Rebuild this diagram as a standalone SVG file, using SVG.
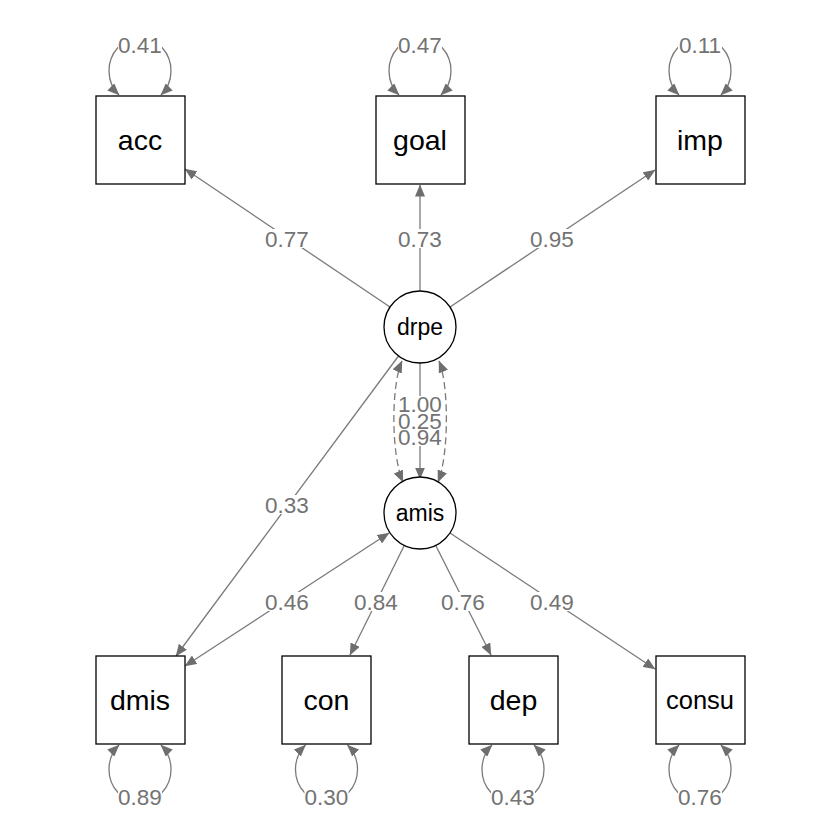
<svg xmlns="http://www.w3.org/2000/svg" width="840" height="840" viewBox="0 0 840 840">
<style>
.bg{fill:#ffffff}
.box{fill:#ffffff;stroke:#000000;stroke-width:1.3}
.nt{font-family:"Liberation Sans",Arial,sans-serif;fill:#000000;text-anchor:middle}
.e{fill:none;stroke:#7a7a7a;stroke-width:1.3}
.d{stroke-dasharray:7 4}
.lb{fill:#ffffff}
.lt{font-family:"Liberation Sans",Arial,sans-serif;font-size:22.5px;fill:#737373;text-anchor:middle}
</style>
<defs>
<marker id="ah" viewBox="0 0 12 10" refX="11.5" refY="5" markerWidth="12" markerHeight="10" markerUnits="userSpaceOnUse" orient="auto-start-reverse">
<path d="M0,0 L12,5 L0,10 z" fill="#6e6e6e"/>
</marker>
</defs>
<rect class="bg" x="0" y="0" width="840" height="840"/>
<g id="connectors">
<line class="e" x1="390" y1="307" x2="185" y2="169" marker-end="url(#ah)"/>
<line class="e" x1="420" y1="291" x2="420" y2="185" marker-end="url(#ah)"/>
<line class="e" x1="450" y1="307" x2="655" y2="170" marker-end="url(#ah)"/>
<line class="e" x1="398.5" y1="356" x2="176" y2="656" marker-end="url(#ah)"/>
<line class="e" x1="389" y1="533" x2="185" y2="666" marker-start="url(#ah)" marker-end="url(#ah)"/>
<line class="e" x1="404" y1="546" x2="350" y2="655" marker-end="url(#ah)"/>
<line class="e" x1="436" y1="546" x2="491" y2="655" marker-end="url(#ah)"/>
<line class="e" x1="450" y1="533" x2="655" y2="669" marker-end="url(#ah)"/>
<line class="e" x1="420" y1="363" x2="420" y2="479" marker-end="url(#ah)"/>
<path class="e d" d="M402 361 C391 385 391 455 403 482" marker-start="url(#ah)" marker-end="url(#ah)"/>
<path class="e d" d="M439 361 C449 385 449 455 438 482" marker-start="url(#ah)" marker-end="url(#ah)"/>
<path class="e" d="M119 95 A31 33 0 1 1 161 95" marker-start="url(#ah)" marker-end="url(#ah)"/>
<path class="e" d="M399 95 A31 33 0 1 1 441 95" marker-start="url(#ah)" marker-end="url(#ah)"/>
<path class="e" d="M679 95 A31 33 0 1 1 721 95" marker-start="url(#ah)" marker-end="url(#ah)"/>
<path class="e" d="M119 745 A31 33 0 1 0 161 745" marker-start="url(#ah)" marker-end="url(#ah)"/>
<path class="e" d="M305.5 745 A31 33 0 1 0 347.5 745" marker-start="url(#ah)" marker-end="url(#ah)"/>
<path class="e" d="M492 745 A31 33 0 1 0 534 745" marker-start="url(#ah)" marker-end="url(#ah)"/>
<path class="e" d="M679 745 A31 33 0 1 0 721 745" marker-start="url(#ah)" marker-end="url(#ah)"/>
<g id="edge-labels">
<rect class="lb" x="265" y="229" width="44" height="19"/><text class="lt" x="287" y="247">0.77</text>
<rect class="lb" x="398" y="229" width="44" height="19"/><text class="lt" x="420" y="247">0.73</text>
<rect class="lb" x="530" y="229" width="44" height="19"/><text class="lt" x="552" y="247">0.95</text>
<rect class="lb" x="265" y="495" width="44" height="19"/><text class="lt" x="287" y="513">0.33</text>
<rect class="lb" x="265" y="592" width="44" height="19"/><text class="lt" x="287" y="610">0.46</text>
<rect class="lb" x="354" y="592" width="44" height="19"/><text class="lt" x="376" y="610">0.84</text>
<rect class="lb" x="441" y="592" width="44" height="19"/><text class="lt" x="463" y="610">0.76</text>
<rect class="lb" x="530" y="592" width="44" height="19"/><text class="lt" x="552" y="610">0.49</text>
<rect class="lb" x="398" y="428" width="44" height="18"/><text class="lt" x="420" y="445">0.94</text>
<rect class="lb" x="398" y="412" width="44" height="18"/><text class="lt" x="420" y="429">0.25</text>
<rect class="lb" x="398" y="396" width="44" height="18"/><text class="lt" x="420" y="412">1.00</text>
<rect class="lb" x="118" y="36" width="44" height="18"/><text class="lt" x="140" y="53">0.41</text>
<rect class="lb" x="398" y="36" width="44" height="18"/><text class="lt" x="420" y="53">0.47</text>
<rect class="lb" x="678" y="36" width="44" height="18"/><text class="lt" x="700" y="53">0.11</text>
<rect class="lb" x="118" y="788" width="44" height="18"/><text class="lt" x="140" y="805">0.89</text>
<rect class="lb" x="304.5" y="788" width="44" height="18"/><text class="lt" x="326.5" y="805">0.30</text>
<rect class="lb" x="491" y="788" width="44" height="18"/><text class="lt" x="513" y="805">0.43</text>
<rect class="lb" x="678" y="788" width="44" height="18"/><text class="lt" x="700" y="805">0.76</text>
</g>
</g>
<g id="acc"><rect class="box" x="96" y="96" width="89" height="88"/><text class="nt" x="140" y="150" font-size="28.5">acc</text></g>
<g id="goal"><rect class="box" x="376" y="96" width="89" height="88"/><text class="nt" x="420" y="150" font-size="28.5">goal</text></g>
<g id="imp"><rect class="box" x="656" y="96" width="89" height="88"/><text class="nt" x="700" y="150" font-size="28.5">imp</text></g>
<g id="drpe"><circle class="box" cx="420" cy="327" r="36"/><text class="nt" x="420" y="335" font-size="23">drpe</text></g>
<g id="amis"><circle class="box" cx="420" cy="513" r="36"/><text class="nt" x="420" y="521" font-size="23">amis</text></g>
<g id="dmis"><rect class="box" x="96" y="656" width="89" height="88"/><text class="nt" x="140" y="710" font-size="28.5">dmis</text></g>
<g id="con"><rect class="box" x="282" y="656" width="89" height="88"/><text class="nt" x="326.5" y="710" font-size="28.5">con</text></g>
<g id="dep"><rect class="box" x="469" y="656" width="89" height="88"/><text class="nt" x="513.5" y="710" font-size="28.5">dep</text></g>
<g id="consu"><rect class="box" x="656" y="656" width="89" height="88"/><text class="nt" x="700" y="709" font-size="25.5">consu</text></g>
</svg>
